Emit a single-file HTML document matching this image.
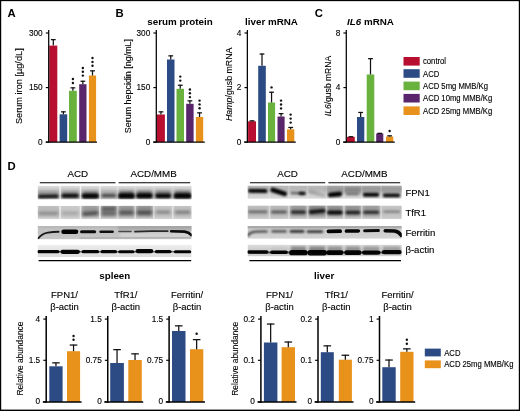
<!DOCTYPE html>
<html><head><meta charset="utf-8"><title>Figure</title>
<style>html,body{margin:0;padding:0;background:#fff;overflow:hidden;}svg{display:block;will-change:transform;opacity:0.9999}text{font-family:"Liberation Sans",sans-serif;}</style></head><body>
<svg width="520" height="411" viewBox="0 0 520 411">
<defs>
<filter id="b1" filterUnits="userSpaceOnUse" x="0" y="160" width="520" height="120"><feGaussianBlur stdDeviation="1.0 0.8"/></filter>
<filter id="b2" filterUnits="userSpaceOnUse" x="0" y="160" width="520" height="120"><feGaussianBlur stdDeviation="1.5 1.4"/></filter>
<filter id="b3" filterUnits="userSpaceOnUse" x="0" y="160" width="520" height="120"><feGaussianBlur stdDeviation="0.7 0.55"/></filter>
</defs>
<rect x="0" y="0" width="520" height="411" fill="#ffffff"/>
<text x="7.4" y="16.8" font-size="11.3" text-anchor="start" font-weight="bold" font-style="normal" fill="#000" >A</text>
<text x="115.6" y="16.8" font-size="11.3" text-anchor="start" font-weight="bold" font-style="normal" fill="#000" >B</text>
<text x="314.8" y="16.8" font-size="11.3" text-anchor="start" font-weight="bold" font-style="normal" fill="#000" >C</text>
<text x="7.6" y="169.6" font-size="11.3" text-anchor="start" font-weight="bold" font-style="normal" fill="#000" >D</text>
<text x="180" y="25" font-size="9.8" text-anchor="middle" font-weight="bold" font-style="normal" fill="#000" >serum protein</text>
<text x="271.5" y="25" font-size="9.8" text-anchor="middle" font-weight="bold" font-style="normal" fill="#000" >liver mRNA</text>
<text x="370.5" y="25" font-size="9.8" text-anchor="middle" font-weight="bold" font-style="normal" fill="#000" ><tspan font-style="italic">IL6</tspan> mRNA</text>
<rect x="49.3" y="45.6" width="8" height="96.5" fill="#b80e30"/>
<line x1="53.3" y1="45.6" x2="53.3" y2="39.2" stroke="#111" stroke-width="1.25"/>
<line x1="50.9" y1="39.65" x2="55.7" y2="39.65" stroke="#111" stroke-width="1.25"/>
<rect x="59.6" y="114.3" width="7.6" height="27.8" fill="#2c4b84"/>
<line x1="63.4" y1="114.3" x2="63.4" y2="111.4" stroke="#111" stroke-width="1.25"/>
<line x1="61" y1="111.85" x2="65.8" y2="111.85" stroke="#111" stroke-width="1.25"/>
<rect x="69" y="90.8" width="7.8" height="51.3" fill="#6ab23e"/>
<line x1="72.9" y1="90.8" x2="72.9" y2="87.4" stroke="#111" stroke-width="1.25"/>
<line x1="70.5" y1="87.85" x2="75.3" y2="87.85" stroke="#111" stroke-width="1.25"/>
<circle cx="72.9" cy="79" r="1.2" fill="#111"/>
<circle cx="72.9" cy="83" r="1.2" fill="#111"/>
<rect x="79.2" y="84.2" width="7.3" height="57.9" fill="#59256b"/>
<line x1="82.85" y1="84.2" x2="82.85" y2="80.8" stroke="#111" stroke-width="1.25"/>
<line x1="80.45" y1="81.25" x2="85.25" y2="81.25" stroke="#111" stroke-width="1.25"/>
<circle cx="82.85" cy="68" r="1.2" fill="#111"/>
<circle cx="82.85" cy="71.8" r="1.2" fill="#111"/>
<circle cx="82.85" cy="75.6" r="1.2" fill="#111"/>
<rect x="88.9" y="75.5" width="7.2" height="66.6" fill="#e8921b"/>
<line x1="92.5" y1="75.5" x2="92.5" y2="70.4" stroke="#111" stroke-width="1.25"/>
<line x1="90.1" y1="70.85" x2="94.9" y2="70.85" stroke="#111" stroke-width="1.25"/>
<circle cx="92.5" cy="58" r="1.2" fill="#111"/>
<circle cx="92.5" cy="61.9" r="1.2" fill="#111"/>
<circle cx="92.5" cy="65.8" r="1.2" fill="#111"/>
<line x1="48.7" y1="29.9" x2="48.7" y2="142.72" stroke="#000000" stroke-width="1.25"/>
<line x1="45.8" y1="142.1" x2="97" y2="142.1" stroke="#000000" stroke-width="1.25"/>
<line x1="45.8" y1="33" x2="48.7" y2="33" stroke="#000000" stroke-width="1.15"/>
<text x="42.7" y="35.52" font-size="8.25" text-anchor="end" font-weight="normal" font-style="normal" fill="#000000"  stroke="#000" stroke-width="0.12">300</text>
<line x1="45.8" y1="87.6" x2="48.7" y2="87.6" stroke="#000000" stroke-width="1.15"/>
<text x="42.7" y="90.12" font-size="8.25" text-anchor="end" font-weight="normal" font-style="normal" fill="#000000"  stroke="#000" stroke-width="0.12">150</text>
<line x1="45.8" y1="142.1" x2="48.7" y2="142.1" stroke="#000000" stroke-width="1.15"/>
<text x="42.7" y="144.82" font-size="8.25" text-anchor="end" font-weight="normal" font-style="normal" fill="#000000"  stroke="#000" stroke-width="0.12">0</text>
<text transform="translate(22.2 86.2) rotate(-90) scale(1 1)" font-size="9.2" text-anchor="middle" fill="#000000" stroke="#000" stroke-width="0.12">Serum iron [µg/dL]</text>
<rect x="157" y="114.5" width="7.9" height="27.6" fill="#b80e30"/>
<line x1="160.95" y1="114.5" x2="160.95" y2="111.4" stroke="#111" stroke-width="1.25"/>
<line x1="158.55" y1="111.85" x2="163.35" y2="111.85" stroke="#111" stroke-width="1.25"/>
<rect x="167" y="59.5" width="7.5" height="82.6" fill="#2c4b84"/>
<line x1="170.75" y1="59.5" x2="170.75" y2="55.4" stroke="#111" stroke-width="1.25"/>
<line x1="168.35" y1="55.85" x2="173.15" y2="55.85" stroke="#111" stroke-width="1.25"/>
<rect x="176.5" y="88.8" width="7.5" height="53.3" fill="#6ab23e"/>
<line x1="180.25" y1="88.8" x2="180.25" y2="84.8" stroke="#111" stroke-width="1.25"/>
<line x1="177.85" y1="85.25" x2="182.65" y2="85.25" stroke="#111" stroke-width="1.25"/>
<circle cx="180.25" cy="76.6" r="1.2" fill="#111"/>
<circle cx="180.25" cy="80.6" r="1.2" fill="#111"/>
<rect x="186.2" y="103.8" width="7.4" height="38.3" fill="#59256b"/>
<line x1="189.9" y1="103.8" x2="189.9" y2="100.4" stroke="#111" stroke-width="1.25"/>
<line x1="187.5" y1="100.85" x2="192.3" y2="100.85" stroke="#111" stroke-width="1.25"/>
<circle cx="189.9" cy="89.5" r="1.2" fill="#111"/>
<circle cx="189.9" cy="93.3" r="1.2" fill="#111"/>
<circle cx="189.9" cy="97.1" r="1.2" fill="#111"/>
<rect x="195.9" y="117" width="7.3" height="25.1" fill="#e8921b"/>
<line x1="199.55" y1="117" x2="199.55" y2="112.4" stroke="#111" stroke-width="1.25"/>
<line x1="197.15" y1="112.85" x2="201.95" y2="112.85" stroke="#111" stroke-width="1.25"/>
<circle cx="199.55" cy="100.6" r="1.2" fill="#111"/>
<circle cx="199.55" cy="104.4" r="1.2" fill="#111"/>
<circle cx="199.55" cy="108.2" r="1.2" fill="#111"/>
<line x1="156.3" y1="29.9" x2="156.3" y2="142.72" stroke="#000000" stroke-width="1.25"/>
<line x1="153.2" y1="142.1" x2="204.8" y2="142.1" stroke="#000000" stroke-width="1.25"/>
<line x1="153.4" y1="33" x2="156.3" y2="33" stroke="#000000" stroke-width="1.15"/>
<text x="150.3" y="35.52" font-size="8.25" text-anchor="end" font-weight="normal" font-style="normal" fill="#000000"  stroke="#000" stroke-width="0.12">300</text>
<line x1="153.4" y1="87.6" x2="156.3" y2="87.6" stroke="#000000" stroke-width="1.15"/>
<text x="150.3" y="90.12" font-size="8.25" text-anchor="end" font-weight="normal" font-style="normal" fill="#000000"  stroke="#000" stroke-width="0.12">150</text>
<line x1="153.4" y1="142.1" x2="156.3" y2="142.1" stroke="#000000" stroke-width="1.15"/>
<text x="150.3" y="144.82" font-size="8.25" text-anchor="end" font-weight="normal" font-style="normal" fill="#000000"  stroke="#000" stroke-width="0.12">0</text>
<text transform="translate(130.7 86.1) rotate(-90) scale(0.95 1)" font-size="9.4" text-anchor="middle" fill="#000000" stroke="#000" stroke-width="0.12">Serum hepcidin [ng/mL]</text>
<rect x="248.1" y="121.3" width="7.9" height="20.8" fill="#b80e30"/>
<line x1="252.05" y1="121.3" x2="252.05" y2="120.4" stroke="#111" stroke-width="1.25"/>
<line x1="249.65" y1="120.85" x2="254.45" y2="120.85" stroke="#111" stroke-width="1.25"/>
<rect x="258.2" y="65.8" width="7.6" height="76.3" fill="#2c4b84"/>
<line x1="262" y1="65.8" x2="262" y2="53.6" stroke="#111" stroke-width="1.25"/>
<line x1="259.6" y1="54.05" x2="264.4" y2="54.05" stroke="#111" stroke-width="1.25"/>
<rect x="268" y="102.5" width="7.1" height="39.6" fill="#6ab23e"/>
<line x1="271.55" y1="102.5" x2="271.55" y2="91.8" stroke="#111" stroke-width="1.25"/>
<line x1="269.15" y1="92.25" x2="273.95" y2="92.25" stroke="#111" stroke-width="1.25"/>
<circle cx="271.55" cy="87.4" r="1.2" fill="#111"/>
<rect x="277.5" y="116.5" width="7.1" height="25.6" fill="#59256b"/>
<line x1="281.05" y1="116.5" x2="281.05" y2="113.2" stroke="#111" stroke-width="1.25"/>
<line x1="278.65" y1="113.65" x2="283.45" y2="113.65" stroke="#111" stroke-width="1.25"/>
<circle cx="281.05" cy="100.6" r="1.2" fill="#111"/>
<circle cx="281.05" cy="104.5" r="1.2" fill="#111"/>
<circle cx="281.05" cy="108.4" r="1.2" fill="#111"/>
<rect x="287" y="129.3" width="7.3" height="12.8" fill="#e8921b"/>
<line x1="290.65" y1="129.3" x2="290.65" y2="127" stroke="#111" stroke-width="1.25"/>
<line x1="288.25" y1="127.45" x2="293.05" y2="127.45" stroke="#111" stroke-width="1.25"/>
<circle cx="290.65" cy="114.6" r="1.2" fill="#111"/>
<circle cx="290.65" cy="118.6" r="1.2" fill="#111"/>
<circle cx="290.65" cy="122.6" r="1.2" fill="#111"/>
<line x1="247.35" y1="29.9" x2="247.35" y2="142.72" stroke="#000000" stroke-width="1.25"/>
<line x1="244.2" y1="142.1" x2="295.8" y2="142.1" stroke="#000000" stroke-width="1.25"/>
<line x1="244.45" y1="33" x2="247.35" y2="33" stroke="#000000" stroke-width="1.15"/>
<text x="241.35" y="35.52" font-size="8.25" text-anchor="end" font-weight="normal" font-style="normal" fill="#000000"  stroke="#000" stroke-width="0.12">4</text>
<line x1="244.45" y1="87.6" x2="247.35" y2="87.6" stroke="#000000" stroke-width="1.15"/>
<text x="241.35" y="90.12" font-size="8.25" text-anchor="end" font-weight="normal" font-style="normal" fill="#000000"  stroke="#000" stroke-width="0.12">2</text>
<line x1="244.45" y1="142.1" x2="247.35" y2="142.1" stroke="#000000" stroke-width="1.15"/>
<text x="241.35" y="144.82" font-size="8.25" text-anchor="end" font-weight="normal" font-style="normal" fill="#000000"  stroke="#000" stroke-width="0.12">0</text>
<text transform="translate(231.5 84.3) rotate(-90) scale(0.95 1)" font-size="9.3" text-anchor="middle" fill="#000000" stroke="#000" stroke-width="0.12"><tspan font-style="italic">Hamp</tspan>/gusb mRNA</text>
<rect x="347" y="136.9" width="7.8" height="5.2" fill="#b80e30"/>
<line x1="350.9" y1="136.9" x2="350.9" y2="136.3" stroke="#111" stroke-width="1.25"/>
<line x1="348.5" y1="136.75" x2="353.3" y2="136.75" stroke="#111" stroke-width="1.25"/>
<rect x="357" y="117" width="7.3" height="25.1" fill="#2c4b84"/>
<line x1="360.65" y1="117" x2="360.65" y2="112" stroke="#111" stroke-width="1.25"/>
<line x1="358.25" y1="112.45" x2="363.05" y2="112.45" stroke="#111" stroke-width="1.25"/>
<rect x="366.7" y="74.5" width="7.6" height="67.6" fill="#6ab23e"/>
<line x1="370.5" y1="74.5" x2="370.5" y2="58.2" stroke="#111" stroke-width="1.25"/>
<line x1="368.1" y1="58.65" x2="372.9" y2="58.65" stroke="#111" stroke-width="1.25"/>
<rect x="376.2" y="133.5" width="7.1" height="8.6" fill="#59256b"/>
<line x1="379.75" y1="133.5" x2="379.75" y2="132.9" stroke="#111" stroke-width="1.25"/>
<line x1="377.35" y1="133.35" x2="382.15" y2="133.35" stroke="#111" stroke-width="1.25"/>
<rect x="386" y="136.6" width="7.3" height="5.5" fill="#e8921b"/>
<line x1="389.65" y1="136.6" x2="389.65" y2="135.4" stroke="#111" stroke-width="1.25"/>
<line x1="387.25" y1="135.85" x2="392.05" y2="135.85" stroke="#111" stroke-width="1.25"/>
<circle cx="389.65" cy="131" r="1.2" fill="#111"/>
<line x1="346.3" y1="29.9" x2="346.3" y2="142.72" stroke="#000000" stroke-width="1.25"/>
<line x1="343.2" y1="142.1" x2="394.8" y2="142.1" stroke="#000000" stroke-width="1.25"/>
<line x1="343.4" y1="33" x2="346.3" y2="33" stroke="#000000" stroke-width="1.15"/>
<text x="340.3" y="35.52" font-size="8.25" text-anchor="end" font-weight="normal" font-style="normal" fill="#000000"  stroke="#000" stroke-width="0.12">8</text>
<line x1="343.4" y1="87.6" x2="346.3" y2="87.6" stroke="#000000" stroke-width="1.15"/>
<text x="340.3" y="90.12" font-size="8.25" text-anchor="end" font-weight="normal" font-style="normal" fill="#000000"  stroke="#000" stroke-width="0.12">4</text>
<line x1="343.4" y1="142.1" x2="346.3" y2="142.1" stroke="#000000" stroke-width="1.15"/>
<text x="340.3" y="144.82" font-size="8.25" text-anchor="end" font-weight="normal" font-style="normal" fill="#000000"  stroke="#000" stroke-width="0.12">0</text>
<text transform="translate(330.5 86) rotate(-90) scale(0.92 1)" font-size="9.3" text-anchor="middle" fill="#000000" stroke="#000" stroke-width="0.12"><tspan font-style="italic">IL6</tspan>/gusb mRNA</text>
<rect x="403.5" y="57" width="16.2" height="8.6" fill="#b80e30"/>
<text transform="translate(423 64.3) scale(0.94 1)" font-size="8.2" text-anchor="start" font-weight="normal" font-style="normal" fill="#000000"  stroke="#000" stroke-width="0.12">control</text>
<rect x="403.5" y="69.2" width="16.2" height="8.6" fill="#2c4b84"/>
<text transform="translate(423 76.5) scale(0.94 1)" font-size="8.2" text-anchor="start" font-weight="normal" font-style="normal" fill="#000000"  stroke="#000" stroke-width="0.12">ACD</text>
<rect x="403.5" y="81.6" width="16.2" height="8.6" fill="#6ab23e"/>
<text transform="translate(423 88.9) scale(0.94 1)" font-size="8.2" text-anchor="start" font-weight="normal" font-style="normal" fill="#000000"  stroke="#000" stroke-width="0.12">ACD 5mg MMB/Kg</text>
<rect x="403.5" y="93.9" width="16.2" height="8.6" fill="#59256b"/>
<text transform="translate(423 101.2) scale(0.94 1)" font-size="8.2" text-anchor="start" font-weight="normal" font-style="normal" fill="#000000"  stroke="#000" stroke-width="0.12">ACD 10mg MMB/Kg</text>
<rect x="403.5" y="106.4" width="16.2" height="8.6" fill="#e8921b"/>
<text transform="translate(423 113.7) scale(0.94 1)" font-size="8.2" text-anchor="start" font-weight="normal" font-style="normal" fill="#000000"  stroke="#000" stroke-width="0.12">ACD 25mg MMB/Kg</text>
<text x="77.8" y="177.4" font-size="9.8" text-anchor="middle" font-weight="normal" font-style="normal" fill="#000"  stroke="#000" stroke-width="0.12">ACD</text>
<text x="153.6" y="177.4" font-size="9.8" text-anchor="middle" font-weight="normal" font-style="normal" fill="#000"  stroke="#000" stroke-width="0.12">ACD/MMB</text>
<line x1="39.8" y1="182.8" x2="115.5" y2="182.8" stroke="#000" stroke-width="1.1"/>
<line x1="118.6" y1="182.8" x2="190.2" y2="182.8" stroke="#000" stroke-width="1.1"/>
<defs><clipPath id="c1"><rect x="37.6" y="185.8" width="154.1" height="13.8"/></clipPath>
<linearGradient id="g1" x1="0" y1="0" x2="0" y2="1">
<stop offset="0" stop-color="#dcdcdc"/>
<stop offset="0.25" stop-color="#cfcfcf"/>
<stop offset="0.6" stop-color="#bcbcbc"/>
<stop offset="0.85" stop-color="#b4b4b4"/>
<stop offset="1" stop-color="#cccccc"/>
</linearGradient></defs>
<g clip-path="url(#c1)">
<rect x="37.6" y="185.8" width="154.1" height="13.8" fill="url(#g1)"/>
<rect x="38.1" y="190.5" width="20.4" height="7" fill="#000" opacity="0.22" filter="url(#b2)"/>
<rect x="61.8" y="190.5" width="16.7" height="7" fill="#000" opacity="0.25" filter="url(#b2)"/>
<rect x="82.5" y="190.5" width="15.7" height="7" fill="#000" opacity="0.3" filter="url(#b2)"/>
<rect x="101.5" y="190.5" width="14.6" height="7" fill="#000" opacity="0.15" filter="url(#b2)"/>
<rect x="119.1" y="190.5" width="14.6" height="7" fill="#000" opacity="0.42" filter="url(#b2)"/>
<rect x="136.9" y="190.5" width="15" height="7" fill="#000" opacity="0.42" filter="url(#b2)"/>
<rect x="155.7" y="190.5" width="15" height="7" fill="#000" opacity="0.38" filter="url(#b2)"/>
<rect x="174.7" y="190.5" width="15.8" height="7" fill="#000" opacity="0.42" filter="url(#b2)"/>
<rect x="59.4" y="183.8" width="1.4" height="17.8" fill="#ffffff" opacity="0.7" filter="url(#b3)"/>
<rect x="79.8" y="183.8" width="1.4" height="17.8" fill="#ffffff" opacity="0.7" filter="url(#b3)"/>
<rect x="99.2" y="183.8" width="1.4" height="17.8" fill="#ffffff" opacity="0.65" filter="url(#b3)"/>
<rect x="116.9" y="183.8" width="1.4" height="17.8" fill="#ffffff" opacity="0.3" filter="url(#b3)"/>
<rect x="134.6" y="183.8" width="1.4" height="17.8" fill="#ffffff" opacity="0.1" filter="url(#b3)"/>
<rect x="153.1" y="183.8" width="1.4" height="17.8" fill="#ffffff" opacity="0.1" filter="url(#b3)"/>
<rect x="172" y="183.8" width="1.4" height="17.8" fill="#ffffff" opacity="0.1" filter="url(#b3)"/>
<path d="M39.8 196.5 L56.8 196.3" stroke="#000" stroke-width="3.6" stroke-linecap="round" fill="none" opacity="0.86" filter="url(#b1)"/>
<path d="M63.5 195.8 L76.8 195.8" stroke="#000" stroke-width="4" stroke-linecap="round" fill="none" opacity="0.9" filter="url(#b1)"/>
<path d="M84.2 196 L96.5 196" stroke="#000" stroke-width="4.8" stroke-linecap="round" fill="none" opacity="0.97" filter="url(#b1)"/>
<path d="M103.2 195.7 L114.4 195.7" stroke="#000" stroke-width="2.8" stroke-linecap="round" fill="none" opacity="0.55" filter="url(#b1)"/>
<path d="M120.8 195.9 L132 195.9" stroke="#000" stroke-width="5.4" stroke-linecap="round" fill="none" opacity="0.98" filter="url(#b1)"/>
<path d="M138.6 195.8 L150.2 195.8" stroke="#000" stroke-width="4.9" stroke-linecap="round" fill="none" opacity="0.97" filter="url(#b1)"/>
<path d="M157.4 195.8 L169 195.8" stroke="#000" stroke-width="4.2" stroke-linecap="round" fill="none" opacity="0.95" filter="url(#b1)"/>
<path d="M176.4 195.9 L188.8 195.9" stroke="#000" stroke-width="5.2" stroke-linecap="round" fill="none" opacity="0.98" filter="url(#b1)"/>
</g>
<defs><clipPath id="c2"><rect x="37.6" y="205.8" width="154.1" height="13.4"/></clipPath>
<linearGradient id="g2" x1="0" y1="0" x2="0" y2="1">
<stop offset="0" stop-color="#d0d0d0"/>
<stop offset="0.5" stop-color="#c6c6c6"/>
<stop offset="0.8" stop-color="#cacaca"/>
<stop offset="1" stop-color="#d6d6d6"/>
</linearGradient></defs>
<g clip-path="url(#c2)">
<rect x="37.6" y="205.8" width="154.1" height="13.4" fill="url(#g2)"/>
<rect x="37.6" y="204.8" width="21.4" height="11.9" fill="#000" opacity="0.08" filter="url(#b2)"/>
<rect x="61.3" y="204.8" width="17.7" height="11.9" fill="#000" opacity="0.02" filter="url(#b2)"/>
<rect x="82" y="204.8" width="16.7" height="11.9" fill="#000" opacity="0.24" filter="url(#b2)"/>
<rect x="101" y="204.8" width="15.6" height="11.9" fill="#000" opacity="0.3" filter="url(#b2)"/>
<rect x="118.6" y="204.8" width="15.6" height="11.9" fill="#000" opacity="0.28" filter="url(#b2)"/>
<rect x="136.4" y="204.8" width="16" height="11.9" fill="#000" opacity="0.3" filter="url(#b2)"/>
<rect x="155.2" y="204.8" width="16" height="11.9" fill="#000" opacity="0.05" filter="url(#b2)"/>
<rect x="174.2" y="204.8" width="16.8" height="11.9" fill="#000" opacity="0.06" filter="url(#b2)"/>
<rect x="59.3" y="203.8" width="1.6" height="17.4" fill="#ffffff" opacity="0.6" filter="url(#b3)"/>
<rect x="79.7" y="203.8" width="1.6" height="17.4" fill="#ffffff" opacity="0.6" filter="url(#b3)"/>
<rect x="99.1" y="203.8" width="1.6" height="17.4" fill="#ffffff" opacity="0.7" filter="url(#b3)"/>
<rect x="116.8" y="203.8" width="1.6" height="17.4" fill="#ffffff" opacity="0.3" filter="url(#b3)"/>
<rect x="134.5" y="203.8" width="1.6" height="17.4" fill="#ffffff" opacity="0.45" filter="url(#b3)"/>
<rect x="153" y="203.8" width="1.6" height="17.4" fill="#ffffff" opacity="0.45" filter="url(#b3)"/>
<rect x="171.9" y="203.8" width="1.6" height="17.4" fill="#ffffff" opacity="0.45" filter="url(#b3)"/>
<path d="M39.6 213.5 L57 213.5" stroke="#000" stroke-width="2.4" stroke-linecap="round" fill="none" opacity="0.28" filter="url(#b2)"/>
<path d="M63.3 213.3 L77 213.3" stroke="#000" stroke-width="2.2" stroke-linecap="round" fill="none" opacity="0.2" filter="url(#b2)"/>
<path d="M84 214 L96.7 213" stroke="#000" stroke-width="3.4" stroke-linecap="round" fill="none" opacity="0.5" filter="url(#b2)"/>
<path d="M103 209 L114.6 208.8" stroke="#000" stroke-width="3" stroke-linecap="round" fill="none" opacity="0.42" filter="url(#b2)"/>
<path d="M120.6 212.6 L132.2 212.6" stroke="#000" stroke-width="3.2" stroke-linecap="round" fill="none" opacity="0.45" filter="url(#b2)"/>
<path d="M138.4 212.6 L150.4 212.6" stroke="#000" stroke-width="3.4" stroke-linecap="round" fill="none" opacity="0.5" filter="url(#b2)"/>
<path d="M157.2 212.2 L169.2 212.2" stroke="#000" stroke-width="2.2" stroke-linecap="round" fill="none" opacity="0.38" filter="url(#b2)"/>
<path d="M176.2 212.2 L189 212.2" stroke="#000" stroke-width="2.4" stroke-linecap="round" fill="none" opacity="0.42" filter="url(#b2)"/>
<path d="M103 213.6 L114.6 213.4" stroke="#000" stroke-width="2.8" stroke-linecap="round" fill="none" opacity="0.3" filter="url(#b2)"/>
</g>
<defs><clipPath id="c3"><rect x="37.6" y="226" width="154.1" height="13.4"/></clipPath>
<linearGradient id="g3" x1="0" y1="0" x2="0" y2="1">
<stop offset="0" stop-color="#c6c6c6"/>
<stop offset="0.5" stop-color="#c2c2c2"/>
<stop offset="1" stop-color="#c8c8c8"/>
</linearGradient></defs>
<g clip-path="url(#c3)">
<rect x="37.6" y="226" width="154.1" height="13.4" fill="url(#g3)"/>
<rect x="30" y="225" width="170" height="3.2" fill="#000" opacity="0.07" filter="url(#b1)"/>
<rect x="120" y="233.6" width="80" height="2.8" fill="#ffffff" opacity="0.4" filter="url(#b2)"/>
<rect x="118" y="225" width="82" height="5.6" fill="#000" opacity="0.1" filter="url(#b1)"/>
<path d="M80 238 L190 237.8" stroke="#000" stroke-width="0.9" stroke-linecap="round" fill="none" opacity="0.2" filter="url(#b3)"/>
<path d="M38.4 238.2 C 40.5 235.4, 43.5 233.2, 48 232.6 S 55 231.9, 58.6 231.8" stroke="#000" stroke-width="1.9" stroke-linecap="round" fill="none" opacity="0.88" filter="url(#b3)"/>
<path d="M63.6 231.8 L76 231.8" stroke="#000" stroke-width="4.6" stroke-linecap="round" fill="none" opacity="0.98" filter="url(#b3)"/>
<path d="M81.6 231.8 L94.6 231.8" stroke="#000" stroke-width="3.1" stroke-linecap="round" fill="none" opacity="0.95" filter="url(#b3)"/>
<path d="M100.6 231.8 L112.6 231.8" stroke="#000" stroke-width="2.5" stroke-linecap="round" fill="none" opacity="0.92" filter="url(#b3)"/>
<path d="M119 231.6 L131 231.5" stroke="#000" stroke-width="1.5" stroke-linecap="round" fill="none" opacity="0.62" filter="url(#b3)"/>
<path d="M135 231.6 L151.5 231.2" stroke="#000" stroke-width="1.8" stroke-linecap="round" fill="none" opacity="0.78" filter="url(#b3)"/>
<path d="M152.5 231.2 L167.6 231.2" stroke="#000" stroke-width="1.8" stroke-linecap="round" fill="none" opacity="0.78" filter="url(#b3)"/>
<path d="M171.2 231.2 L184.6 231.6 C 187.6 232.0, 189.6 233.2, 191.4 235.2" stroke="#000" stroke-width="2.6" stroke-linecap="round" fill="none" opacity="0.95" filter="url(#b3)"/>
</g>
<defs><clipPath id="c4"><rect x="37.6" y="244.8" width="154.1" height="12.2"/></clipPath>
<linearGradient id="g4" x1="0" y1="0" x2="0" y2="1">
<stop offset="0" stop-color="#efefef"/>
<stop offset="0.4" stop-color="#e4e4e4"/>
<stop offset="1" stop-color="#dcdcdc"/>
</linearGradient></defs>
<g clip-path="url(#c4)">
<rect x="37.6" y="244.8" width="154.1" height="12.2" fill="url(#g4)"/>
<path d="M38.8 251.7 L57.8 251.7" stroke="#000" stroke-width="3.3" stroke-linecap="round" fill="none" opacity="0.97" filter="url(#b3)"/>
<path d="M62.5 251.8 L77.8 251.8" stroke="#000" stroke-width="4.3" stroke-linecap="round" fill="none" opacity="0.97" filter="url(#b3)"/>
<path d="M83.2 251.7 L97.5 251.7" stroke="#000" stroke-width="3.3" stroke-linecap="round" fill="none" opacity="0.97" filter="url(#b3)"/>
<path d="M102.2 251.7 L115.4 251.7" stroke="#000" stroke-width="3.3" stroke-linecap="round" fill="none" opacity="0.97" filter="url(#b3)"/>
<path d="M119.8 251.7 L133 251.7" stroke="#000" stroke-width="3" stroke-linecap="round" fill="none" opacity="0.97" filter="url(#b3)"/>
<path d="M137.6 251.1 L151.2 251.1" stroke="#000" stroke-width="4.3" stroke-linecap="round" fill="none" opacity="0.97" filter="url(#b3)"/>
<path d="M156.4 251.6 L170 251.6" stroke="#000" stroke-width="3.2" stroke-linecap="round" fill="none" opacity="0.97" filter="url(#b3)"/>
<path d="M175.4 251.8 L189.8 251.8" stroke="#000" stroke-width="3" stroke-linecap="round" fill="none" opacity="0.97" filter="url(#b3)"/>
<path d="M39.6 251.7 L189.7 251.7" stroke="#000" stroke-width="1.6" stroke-linecap="round" fill="none" opacity="0.55" filter="url(#b3)"/>
</g>
<line x1="38.6" y1="260.6" x2="191.2" y2="260.6" stroke="#000" stroke-width="1.3"/>
<text x="287.6" y="177.4" font-size="9.8" text-anchor="middle" font-weight="normal" font-style="normal" fill="#000"  stroke="#000" stroke-width="0.12">ACD</text>
<text x="364.4" y="177.4" font-size="9.8" text-anchor="middle" font-weight="normal" font-style="normal" fill="#000"  stroke="#000" stroke-width="0.12">ACD/MMB</text>
<line x1="250" y1="182.8" x2="325.2" y2="182.8" stroke="#000" stroke-width="1.1"/>
<line x1="328.4" y1="182.8" x2="400.2" y2="182.8" stroke="#000" stroke-width="1.1"/>
<defs><clipPath id="c5"><rect x="247.5" y="185.6" width="154.3" height="13.2"/></clipPath>
<linearGradient id="g5" x1="0" y1="0" x2="0" y2="1">
<stop offset="0" stop-color="#cfcfcf"/>
<stop offset="0.5" stop-color="#cacaca"/>
<stop offset="1" stop-color="#d8d8d8"/>
</linearGradient></defs>
<g clip-path="url(#c5)">
<rect x="247.5" y="185.6" width="154.3" height="13.2" fill="url(#g5)"/>
<rect x="245.5" y="184" width="158.3" height="7.5" fill="#000" opacity="0.1" filter="url(#b2)"/>
<rect x="326" y="186" width="77" height="7.5" fill="#000" opacity="0.16" filter="url(#b2)"/>
<rect x="345" y="188" width="15" height="6" fill="#000" opacity="0.14" filter="url(#b2)"/>
<rect x="268.7" y="183.6" width="1.4" height="17.2" fill="#ffffff" opacity="0.22" filter="url(#b3)"/>
<rect x="288.3" y="183.6" width="1.4" height="17.2" fill="#ffffff" opacity="0.22" filter="url(#b3)"/>
<rect x="306.9" y="183.6" width="1.4" height="17.2" fill="#ffffff" opacity="0.22" filter="url(#b3)"/>
<rect x="325.7" y="183.6" width="1.4" height="17.2" fill="#ffffff" opacity="0.22" filter="url(#b3)"/>
<rect x="343.2" y="183.6" width="1.4" height="17.2" fill="#ffffff" opacity="0.22" filter="url(#b3)"/>
<rect x="361" y="183.6" width="1.4" height="17.2" fill="#ffffff" opacity="0.22" filter="url(#b3)"/>
<rect x="380.4" y="183.6" width="1.4" height="17.2" fill="#ffffff" opacity="0.22" filter="url(#b3)"/>
<path d="M250 190.8 L265.4 191.1" stroke="#000" stroke-width="4" stroke-linecap="round" fill="none" opacity="0.97" filter="url(#b1)"/>
<path d="M272.8 190 L284.6 193.8" stroke="#000" stroke-width="4.8" stroke-linecap="round" fill="none" opacity="0.98" filter="url(#b1)"/>
<path d="M291.6 193.2 L304 193.4" stroke="#000" stroke-width="2.2" stroke-linecap="round" fill="none" opacity="0.55" filter="url(#b1)"/>
<path d="M300.2 193.4 L304.2 193.5" stroke="#000" stroke-width="3.2" stroke-linecap="round" fill="none" opacity="0.85" filter="url(#b1)"/>
<path d="M310 191.8 L324.4 195.6" stroke="#000" stroke-width="2" stroke-linecap="round" fill="none" opacity="0.32" filter="url(#b2)"/>
<path d="M330.2 194.8 L339.8 194" stroke="#000" stroke-width="4.8" stroke-linecap="round" fill="none" opacity="0.98" filter="url(#b1)"/>
<path d="M347 194.2 L358 194.2" stroke="#000" stroke-width="2" stroke-linecap="round" fill="none" opacity="0.42" filter="url(#b1)"/>
<path d="M364.8 194.7 L377.2 194.7" stroke="#000" stroke-width="4" stroke-linecap="round" fill="none" opacity="0.97" filter="url(#b1)"/>
<path d="M384.6 195.4 L398.4 195.4" stroke="#000" stroke-width="3.6" stroke-linecap="round" fill="none" opacity="0.94" filter="url(#b1)"/>
</g>
<defs><clipPath id="c6"><rect x="247.5" y="205.5" width="154.3" height="13.5"/></clipPath>
<linearGradient id="g6" x1="0" y1="0" x2="0" y2="1">
<stop offset="0" stop-color="#c4c4c4"/>
<stop offset="0.5" stop-color="#c0c0c0"/>
<stop offset="0.8" stop-color="#c6c6c6"/>
<stop offset="1" stop-color="#d0d0d0"/>
</linearGradient></defs>
<g clip-path="url(#c6)">
<rect x="247.5" y="205.5" width="154.3" height="13.5" fill="url(#g6)"/>
<rect x="247.5" y="204.5" width="20.5" height="12" fill="#000" opacity="0.04" filter="url(#b2)"/>
<rect x="270.6" y="204.5" width="16.8" height="12" fill="#000" opacity="0.06" filter="url(#b2)"/>
<rect x="290.4" y="204.5" width="16" height="12" fill="#000" opacity="0.22" filter="url(#b2)"/>
<rect x="308.8" y="204.5" width="16.8" height="12" fill="#000" opacity="0.3" filter="url(#b2)"/>
<rect x="327.2" y="204.5" width="15.4" height="12" fill="#000" opacity="0.26" filter="url(#b2)"/>
<rect x="345.2" y="204.5" width="15.4" height="12" fill="#000" opacity="0.24" filter="url(#b2)"/>
<rect x="362.8" y="204.5" width="16.8" height="12" fill="#000" opacity="0.2" filter="url(#b2)"/>
<rect x="382.6" y="204.5" width="18.4" height="12" fill="#000" opacity="0" filter="url(#b2)"/>
<rect x="268.6" y="203.5" width="1.6" height="17.5" fill="#ffffff" opacity="0.4" filter="url(#b3)"/>
<rect x="288.2" y="203.5" width="1.6" height="17.5" fill="#ffffff" opacity="0.4" filter="url(#b3)"/>
<rect x="306.8" y="203.5" width="1.6" height="17.5" fill="#ffffff" opacity="0.4" filter="url(#b3)"/>
<rect x="325.6" y="203.5" width="1.6" height="17.5" fill="#ffffff" opacity="0.4" filter="url(#b3)"/>
<rect x="343.1" y="203.5" width="1.6" height="17.5" fill="#ffffff" opacity="0.4" filter="url(#b3)"/>
<rect x="360.9" y="203.5" width="1.6" height="17.5" fill="#ffffff" opacity="0.4" filter="url(#b3)"/>
<rect x="380.3" y="203.5" width="1.6" height="17.5" fill="#ffffff" opacity="0.4" filter="url(#b3)"/>
<path d="M249.5 211.9 L266 211.9" stroke="#000" stroke-width="2.6" stroke-linecap="round" fill="none" opacity="0.42" filter="url(#b1)"/>
<path d="M272.6 211.9 L285.4 211.9" stroke="#000" stroke-width="3" stroke-linecap="round" fill="none" opacity="0.5" filter="url(#b1)"/>
<path d="M292.4 212.1 L304.4 212.1" stroke="#000" stroke-width="3.2" stroke-linecap="round" fill="none" opacity="0.74" filter="url(#b1)"/>
<path d="M310.8 212 L323.6 210.8" stroke="#000" stroke-width="3.8" stroke-linecap="round" fill="none" opacity="0.86" filter="url(#b1)"/>
<path d="M329.2 212.5 L340.6 212.5" stroke="#000" stroke-width="4.2" stroke-linecap="round" fill="none" opacity="0.92" filter="url(#b1)"/>
<path d="M347.2 212.5 L358.6 212.5" stroke="#000" stroke-width="3.5" stroke-linecap="round" fill="none" opacity="0.78" filter="url(#b1)"/>
<path d="M364.8 212.2 L377.6 212.2" stroke="#000" stroke-width="3.1" stroke-linecap="round" fill="none" opacity="0.75" filter="url(#b1)"/>
<path d="M384.6 211.8 L399 211.8" stroke="#000" stroke-width="2.4" stroke-linecap="round" fill="none" opacity="0.3" filter="url(#b1)"/>
</g>
<defs><clipPath id="c7"><rect x="247.5" y="226" width="154.3" height="12.8"/></clipPath>
<linearGradient id="g7" x1="0" y1="0" x2="0" y2="1">
<stop offset="0" stop-color="#cacaca"/>
<stop offset="0.5" stop-color="#cecece"/>
<stop offset="1" stop-color="#d4d4d4"/>
</linearGradient></defs>
<g clip-path="url(#c7)">
<rect x="247.5" y="226" width="154.3" height="12.8" fill="url(#g7)"/>
<rect x="245.5" y="225" width="158.3" height="3.4" fill="#000" opacity="0.16" filter="url(#b3)"/>
<path d="M248.0 235.4 C 249.2 233.4, 251.2 232.0, 254.6 231.7 S 262 231.5, 266.8 231.4" stroke="#000" stroke-width="2" stroke-linecap="round" fill="none" opacity="0.72" filter="url(#b1)"/>
<path d="M272.6 231.4 L285.6 231.4" stroke="#000" stroke-width="2.4" stroke-linecap="round" fill="none" opacity="0.68" filter="url(#b1)"/>
<path d="M291 231.4 L303.2 231.4" stroke="#000" stroke-width="2.6" stroke-linecap="round" fill="none" opacity="0.78" filter="url(#b1)"/>
<path d="M308 231.6 L322 231.6" stroke="#000" stroke-width="2.4" stroke-linecap="round" fill="none" opacity="0.88" filter="url(#b1)"/>
<path d="M328.4 231.4 L340.2 231.2" stroke="#000" stroke-width="3.7" stroke-linecap="round" fill="none" opacity="0.98" filter="url(#b3)"/>
<path d="M346.4 231.1 L358.4 230.9" stroke="#000" stroke-width="3.5" stroke-linecap="round" fill="none" opacity="0.98" filter="url(#b3)"/>
<path d="M364.6 230.8 L378.4 230.6" stroke="#000" stroke-width="3" stroke-linecap="round" fill="none" opacity="0.95" filter="url(#b3)"/>
<path d="M385.2 230.8 L394.6 231.0 C 397.6 231.4, 399.6 232.8, 401.4 235.4" stroke="#000" stroke-width="3.5" stroke-linecap="round" fill="none" opacity="0.97" filter="url(#b3)"/>
</g>
<defs><clipPath id="c8"><rect x="247.5" y="244.6" width="154.3" height="11.8"/></clipPath>
<linearGradient id="g8" x1="0" y1="0" x2="0" y2="1">
<stop offset="0" stop-color="#dedede"/>
<stop offset="0.35" stop-color="#cecece"/>
<stop offset="0.7" stop-color="#c8c8c8"/>
<stop offset="1" stop-color="#d2d2d2"/>
</linearGradient></defs>
<g clip-path="url(#c8)">
<rect x="247.5" y="244.6" width="154.3" height="11.8" fill="url(#g8)"/>
<rect x="248" y="246.2" width="19.5" height="5.8" fill="#000" opacity="0" filter="url(#b1)"/>
<rect x="271.1" y="246.2" width="15.8" height="5.8" fill="#000" opacity="0.03" filter="url(#b1)"/>
<rect x="290.9" y="246.2" width="15" height="5.8" fill="#000" opacity="0.32" filter="url(#b1)"/>
<rect x="309.3" y="246.2" width="15.8" height="5.8" fill="#000" opacity="0.34" filter="url(#b1)"/>
<rect x="327.7" y="246.2" width="14.4" height="5.8" fill="#000" opacity="0.28" filter="url(#b1)"/>
<rect x="345.7" y="246.2" width="14.4" height="5.8" fill="#000" opacity="0.28" filter="url(#b1)"/>
<rect x="363.3" y="246.2" width="15.8" height="5.8" fill="#000" opacity="0.24" filter="url(#b1)"/>
<rect x="383.1" y="246.2" width="17.4" height="5.8" fill="#000" opacity="0.22" filter="url(#b1)"/>
<path d="M248.9 252 L266.6 252" stroke="#000" stroke-width="3.6" stroke-linecap="round" fill="none" opacity="0.97" filter="url(#b3)"/>
<path d="M272 252.2 L286 252.2" stroke="#000" stroke-width="3.6" stroke-linecap="round" fill="none" opacity="0.97" filter="url(#b3)"/>
<path d="M291.8 252.7 L305 252.7" stroke="#000" stroke-width="5.3" stroke-linecap="round" fill="none" opacity="0.97" filter="url(#b3)"/>
<path d="M310.2 252.7 L324.2 252.7" stroke="#000" stroke-width="5.5" stroke-linecap="round" fill="none" opacity="0.97" filter="url(#b3)"/>
<path d="M328.6 252.7 L341.2 252.7" stroke="#000" stroke-width="4.7" stroke-linecap="round" fill="none" opacity="0.97" filter="url(#b3)"/>
<path d="M346.6 252.7 L359.2 252.7" stroke="#000" stroke-width="4.7" stroke-linecap="round" fill="none" opacity="0.97" filter="url(#b3)"/>
<path d="M364.2 252.6 L378.2 252.6" stroke="#000" stroke-width="4.4" stroke-linecap="round" fill="none" opacity="0.97" filter="url(#b3)"/>
<path d="M384 252.1 L399.6 252.1" stroke="#000" stroke-width="4.4" stroke-linecap="round" fill="none" opacity="0.97" filter="url(#b3)"/>
<path d="M249.5 252.5 L399.8 252.5" stroke="#000" stroke-width="1.8" stroke-linecap="round" fill="none" opacity="0.6" filter="url(#b3)"/>
</g>
<line x1="249.4" y1="260.6" x2="401" y2="260.6" stroke="#000" stroke-width="1.3"/>
<text x="405.4" y="196" font-size="9.5" text-anchor="start" font-weight="normal" font-style="normal" fill="#000"  stroke="#000" stroke-width="0.12">FPN1</text>
<text x="405.4" y="216" font-size="9.5" text-anchor="start" font-weight="normal" font-style="normal" fill="#000"  stroke="#000" stroke-width="0.12">TfR1</text>
<text x="405.4" y="235.6" font-size="9.6" text-anchor="start" font-weight="normal" font-style="normal" fill="#000"  stroke="#000" stroke-width="0.12">Ferritin</text>
<text x="405.4" y="252.9" font-size="9.6" text-anchor="start" font-weight="normal" font-style="normal" fill="#000"  stroke="#000" stroke-width="0.12">β-actin</text>
<text x="114.8" y="279.4" font-size="9.8" text-anchor="middle" font-weight="bold" font-style="normal" fill="#000" >spleen</text>
<text x="324.2" y="279.4" font-size="9.8" text-anchor="middle" font-weight="bold" font-style="normal" fill="#000" >liver</text>
<text transform="translate(64.5 298.4) scale(0.96 1)" font-size="9.9" text-anchor="middle" font-weight="normal" font-style="normal" fill="#000000"  stroke="#000" stroke-width="0.12">FPN1/</text>
<text transform="translate(64.5 310.3) scale(0.96 1)" font-size="9.9" text-anchor="middle" font-weight="normal" font-style="normal" fill="#000000"  stroke="#000" stroke-width="0.12">β-actin</text>
<rect x="49.3" y="366.3" width="13.3" height="35.6" fill="#2c4b84"/>
<line x1="55.95" y1="366.3" x2="55.95" y2="362.4" stroke="#111" stroke-width="1.25"/>
<line x1="52.15" y1="362.85" x2="59.75" y2="362.85" stroke="#111" stroke-width="1.25"/>
<rect x="67" y="351.2" width="13.1" height="50.7" fill="#e8921b"/>
<line x1="73.55" y1="351.2" x2="73.55" y2="344.6" stroke="#111" stroke-width="1.25"/>
<line x1="69.75" y1="345.05" x2="77.35" y2="345.05" stroke="#111" stroke-width="1.25"/>
<circle cx="73.55" cy="336" r="1.2" fill="#111"/>
<circle cx="73.55" cy="339.8" r="1.2" fill="#111"/>
<line x1="46.2" y1="316" x2="46.2" y2="402.65" stroke="#000000" stroke-width="1.5"/>
<line x1="42.8" y1="401.9" x2="81.6" y2="401.9" stroke="#000000" stroke-width="1.5"/>
<line x1="43.3" y1="319.1" x2="46.2" y2="319.1" stroke="#000000" stroke-width="1.15"/>
<text x="40.2" y="321.62" font-size="8.25" text-anchor="end" font-weight="normal" font-style="normal" fill="#000000"  stroke="#000" stroke-width="0.12">4</text>
<line x1="43.3" y1="360.3" x2="46.2" y2="360.3" stroke="#000000" stroke-width="1.15"/>
<text x="40.2" y="362.82" font-size="8.25" text-anchor="end" font-weight="normal" font-style="normal" fill="#000000"  stroke="#000" stroke-width="0.12">1.5</text>
<line x1="43.3" y1="401.9" x2="46.2" y2="401.9" stroke="#000000" stroke-width="1.15"/>
<text x="40.2" y="404.02" font-size="8.25" text-anchor="end" font-weight="normal" font-style="normal" fill="#000000"  stroke="#000" stroke-width="0.12">0</text>
<text transform="translate(23.4 358.6) rotate(-90) scale(0.86 1)" font-size="9.75" text-anchor="middle" fill="#000000" stroke="#000" stroke-width="0.12">Relative abundance</text>
<text transform="translate(125.8 298.4) scale(0.96 1)" font-size="9.9" text-anchor="middle" font-weight="normal" font-style="normal" fill="#000000"  stroke="#000" stroke-width="0.12">TfR1/</text>
<text transform="translate(125.8 310.3) scale(0.96 1)" font-size="9.9" text-anchor="middle" font-weight="normal" font-style="normal" fill="#000000"  stroke="#000" stroke-width="0.12">β-actin</text>
<rect x="110.2" y="363" width="13.7" height="38.9" fill="#2c4b84"/>
<line x1="117.05" y1="363" x2="117.05" y2="349.2" stroke="#111" stroke-width="1.25"/>
<line x1="113.25" y1="349.65" x2="120.85" y2="349.65" stroke="#111" stroke-width="1.25"/>
<rect x="128.3" y="360" width="13.5" height="41.9" fill="#e8921b"/>
<line x1="135.05" y1="360" x2="135.05" y2="353.4" stroke="#111" stroke-width="1.25"/>
<line x1="131.25" y1="353.85" x2="138.85" y2="353.85" stroke="#111" stroke-width="1.25"/>
<line x1="107.75" y1="316" x2="107.75" y2="402.65" stroke="#000000" stroke-width="1.5"/>
<line x1="104.3" y1="401.9" x2="143.2" y2="401.9" stroke="#000000" stroke-width="1.5"/>
<line x1="104.85" y1="319.1" x2="107.75" y2="319.1" stroke="#000000" stroke-width="1.15"/>
<text x="101.75" y="321.62" font-size="8.25" text-anchor="end" font-weight="normal" font-style="normal" fill="#000000"  stroke="#000" stroke-width="0.12">1.5</text>
<line x1="104.85" y1="360.3" x2="107.75" y2="360.3" stroke="#000000" stroke-width="1.15"/>
<text x="101.75" y="362.82" font-size="8.25" text-anchor="end" font-weight="normal" font-style="normal" fill="#000000"  stroke="#000" stroke-width="0.12">0.75</text>
<line x1="104.85" y1="401.9" x2="107.75" y2="401.9" stroke="#000000" stroke-width="1.15"/>
<text x="101.75" y="404.02" font-size="8.25" text-anchor="end" font-weight="normal" font-style="normal" fill="#000000"  stroke="#000" stroke-width="0.12">0</text>
<text transform="translate(187 298.4) scale(0.96 1)" font-size="9.9" text-anchor="middle" font-weight="normal" font-style="normal" fill="#000000"  stroke="#000" stroke-width="0.12">Ferritin/</text>
<text transform="translate(187 310.3) scale(0.96 1)" font-size="9.9" text-anchor="middle" font-weight="normal" font-style="normal" fill="#000000"  stroke="#000" stroke-width="0.12">β-actin</text>
<rect x="172" y="331" width="13.5" height="70.9" fill="#2c4b84"/>
<line x1="178.75" y1="331" x2="178.75" y2="325.4" stroke="#111" stroke-width="1.25"/>
<line x1="174.95" y1="325.85" x2="182.55" y2="325.85" stroke="#111" stroke-width="1.25"/>
<rect x="190" y="349.2" width="13.3" height="52.7" fill="#e8921b"/>
<line x1="196.65" y1="349.2" x2="196.65" y2="339.2" stroke="#111" stroke-width="1.25"/>
<line x1="192.85" y1="339.65" x2="200.45" y2="339.65" stroke="#111" stroke-width="1.25"/>
<circle cx="196.65" cy="333.8" r="1.2" fill="#111"/>
<line x1="169.1" y1="316" x2="169.1" y2="402.65" stroke="#000000" stroke-width="1.5"/>
<line x1="165.8" y1="401.9" x2="205" y2="401.9" stroke="#000000" stroke-width="1.5"/>
<line x1="166.2" y1="319.1" x2="169.1" y2="319.1" stroke="#000000" stroke-width="1.15"/>
<text x="163.1" y="321.62" font-size="8.25" text-anchor="end" font-weight="normal" font-style="normal" fill="#000000"  stroke="#000" stroke-width="0.12">1.5</text>
<line x1="166.2" y1="360.3" x2="169.1" y2="360.3" stroke="#000000" stroke-width="1.15"/>
<text x="163.1" y="362.82" font-size="8.25" text-anchor="end" font-weight="normal" font-style="normal" fill="#000000"  stroke="#000" stroke-width="0.12">0.75</text>
<line x1="166.2" y1="401.9" x2="169.1" y2="401.9" stroke="#000000" stroke-width="1.15"/>
<text x="163.1" y="404.02" font-size="8.25" text-anchor="end" font-weight="normal" font-style="normal" fill="#000000"  stroke="#000" stroke-width="0.12">0</text>
<text transform="translate(279.5 298.4) scale(0.96 1)" font-size="9.9" text-anchor="middle" font-weight="normal" font-style="normal" fill="#000000"  stroke="#000" stroke-width="0.12">FPN1/</text>
<text transform="translate(279.5 310.3) scale(0.96 1)" font-size="9.9" text-anchor="middle" font-weight="normal" font-style="normal" fill="#000000"  stroke="#000" stroke-width="0.12">β-actin</text>
<rect x="263.9" y="342.5" width="13.5" height="59.4" fill="#2c4b84"/>
<line x1="270.65" y1="342.5" x2="270.65" y2="323.6" stroke="#111" stroke-width="1.25"/>
<line x1="266.85" y1="324.05" x2="274.45" y2="324.05" stroke="#111" stroke-width="1.25"/>
<rect x="281.6" y="347.2" width="13.4" height="54.7" fill="#e8921b"/>
<line x1="288.3" y1="347.2" x2="288.3" y2="341.6" stroke="#111" stroke-width="1.25"/>
<line x1="284.5" y1="342.05" x2="292.1" y2="342.05" stroke="#111" stroke-width="1.25"/>
<line x1="260.9" y1="316" x2="260.9" y2="402.65" stroke="#000000" stroke-width="1.5"/>
<line x1="257.5" y1="401.9" x2="296.5" y2="401.9" stroke="#000000" stroke-width="1.5"/>
<line x1="258" y1="319.1" x2="260.9" y2="319.1" stroke="#000000" stroke-width="1.15"/>
<text x="254.9" y="321.62" font-size="8.25" text-anchor="end" font-weight="normal" font-style="normal" fill="#000000"  stroke="#000" stroke-width="0.12">0.2</text>
<line x1="258" y1="360.3" x2="260.9" y2="360.3" stroke="#000000" stroke-width="1.15"/>
<text x="254.9" y="362.82" font-size="8.25" text-anchor="end" font-weight="normal" font-style="normal" fill="#000000"  stroke="#000" stroke-width="0.12">0.1</text>
<line x1="258" y1="401.9" x2="260.9" y2="401.9" stroke="#000000" stroke-width="1.15"/>
<text x="254.9" y="404.02" font-size="8.25" text-anchor="end" font-weight="normal" font-style="normal" fill="#000000"  stroke="#000" stroke-width="0.12">0</text>
<text transform="translate(238.1 358.8) rotate(-90) scale(0.86 1)" font-size="9.75" text-anchor="middle" fill="#000000" stroke="#000" stroke-width="0.12">Relative abundance</text>
<text transform="translate(336.3 298.4) scale(0.96 1)" font-size="9.9" text-anchor="middle" font-weight="normal" font-style="normal" fill="#000000"  stroke="#000" stroke-width="0.12">TfR1/</text>
<text transform="translate(336.3 310.3) scale(0.96 1)" font-size="9.9" text-anchor="middle" font-weight="normal" font-style="normal" fill="#000000"  stroke="#000" stroke-width="0.12">β-actin</text>
<rect x="320.8" y="352.2" width="13" height="49.7" fill="#2c4b84"/>
<line x1="327.3" y1="352.2" x2="327.3" y2="345.4" stroke="#111" stroke-width="1.25"/>
<line x1="323.5" y1="345.85" x2="331.1" y2="345.85" stroke="#111" stroke-width="1.25"/>
<rect x="338.8" y="359.7" width="13.1" height="42.2" fill="#e8921b"/>
<line x1="345.35" y1="359.7" x2="345.35" y2="354.8" stroke="#111" stroke-width="1.25"/>
<line x1="341.55" y1="355.25" x2="349.15" y2="355.25" stroke="#111" stroke-width="1.25"/>
<line x1="318" y1="316" x2="318" y2="402.65" stroke="#000000" stroke-width="1.5"/>
<line x1="314.6" y1="401.9" x2="353.5" y2="401.9" stroke="#000000" stroke-width="1.5"/>
<line x1="315.1" y1="319.1" x2="318" y2="319.1" stroke="#000000" stroke-width="1.15"/>
<text x="312" y="321.62" font-size="8.25" text-anchor="end" font-weight="normal" font-style="normal" fill="#000000"  stroke="#000" stroke-width="0.12">0.2</text>
<line x1="315.1" y1="360.3" x2="318" y2="360.3" stroke="#000000" stroke-width="1.15"/>
<text x="312" y="362.82" font-size="8.25" text-anchor="end" font-weight="normal" font-style="normal" fill="#000000"  stroke="#000" stroke-width="0.12">0.1</text>
<line x1="315.1" y1="401.9" x2="318" y2="401.9" stroke="#000000" stroke-width="1.15"/>
<text x="312" y="404.02" font-size="8.25" text-anchor="end" font-weight="normal" font-style="normal" fill="#000000"  stroke="#000" stroke-width="0.12">0</text>
<text transform="translate(397.5 298.4) scale(0.96 1)" font-size="9.9" text-anchor="middle" font-weight="normal" font-style="normal" fill="#000000"  stroke="#000" stroke-width="0.12">Ferritin/</text>
<text transform="translate(397.5 310.3) scale(0.96 1)" font-size="9.9" text-anchor="middle" font-weight="normal" font-style="normal" fill="#000000"  stroke="#000" stroke-width="0.12">β-actin</text>
<rect x="382.3" y="367.2" width="13.4" height="34.7" fill="#2c4b84"/>
<line x1="389" y1="367.2" x2="389" y2="359.6" stroke="#111" stroke-width="1.25"/>
<line x1="385.2" y1="360.05" x2="392.8" y2="360.05" stroke="#111" stroke-width="1.25"/>
<rect x="400.2" y="351.8" width="13.3" height="50.1" fill="#e8921b"/>
<line x1="406.85" y1="351.8" x2="406.85" y2="348.4" stroke="#111" stroke-width="1.25"/>
<line x1="403.05" y1="348.85" x2="410.65" y2="348.85" stroke="#111" stroke-width="1.25"/>
<circle cx="406.85" cy="339.8" r="1.2" fill="#111"/>
<circle cx="406.85" cy="343.7" r="1.2" fill="#111"/>
<line x1="379.5" y1="316" x2="379.5" y2="402.65" stroke="#000000" stroke-width="1.5"/>
<line x1="376.1" y1="401.9" x2="415.2" y2="401.9" stroke="#000000" stroke-width="1.5"/>
<line x1="376.6" y1="319.1" x2="379.5" y2="319.1" stroke="#000000" stroke-width="1.15"/>
<text x="373.5" y="321.62" font-size="8.25" text-anchor="end" font-weight="normal" font-style="normal" fill="#000000"  stroke="#000" stroke-width="0.12">1</text>
<line x1="376.6" y1="360.3" x2="379.5" y2="360.3" stroke="#000000" stroke-width="1.15"/>
<text x="373.5" y="362.82" font-size="8.25" text-anchor="end" font-weight="normal" font-style="normal" fill="#000000"  stroke="#000" stroke-width="0.12">0.75</text>
<line x1="376.6" y1="401.9" x2="379.5" y2="401.9" stroke="#000000" stroke-width="1.15"/>
<text x="373.5" y="404.02" font-size="8.25" text-anchor="end" font-weight="normal" font-style="normal" fill="#000000"  stroke="#000" stroke-width="0.12">0</text>
<rect x="424.8" y="348.6" width="16" height="7.8" fill="#2c4b84"/>
<rect x="424.8" y="360.4" width="16" height="7.8" fill="#e8921b"/>
<text transform="translate(444.2 355.5) scale(0.94 1)" font-size="8.2" text-anchor="start" font-weight="normal" font-style="normal" fill="#000000"  stroke="#000" stroke-width="0.12">ACD</text>
<text transform="translate(444.2 367.3) scale(0.94 1)" font-size="8.2" text-anchor="start" font-weight="normal" font-style="normal" fill="#000000"  stroke="#000" stroke-width="0.12">ACD 25mg MMB/Kg</text>
<rect x="0" y="0" width="520" height="1.15" fill="#000"/>
<rect x="0" y="0" width="1.2" height="411" fill="#000"/>
<rect x="518.8" y="0" width="1.2" height="411" fill="#000"/>
<rect x="0" y="409.6" width="520" height="1.4" fill="#000"/>
</svg></body></html>
